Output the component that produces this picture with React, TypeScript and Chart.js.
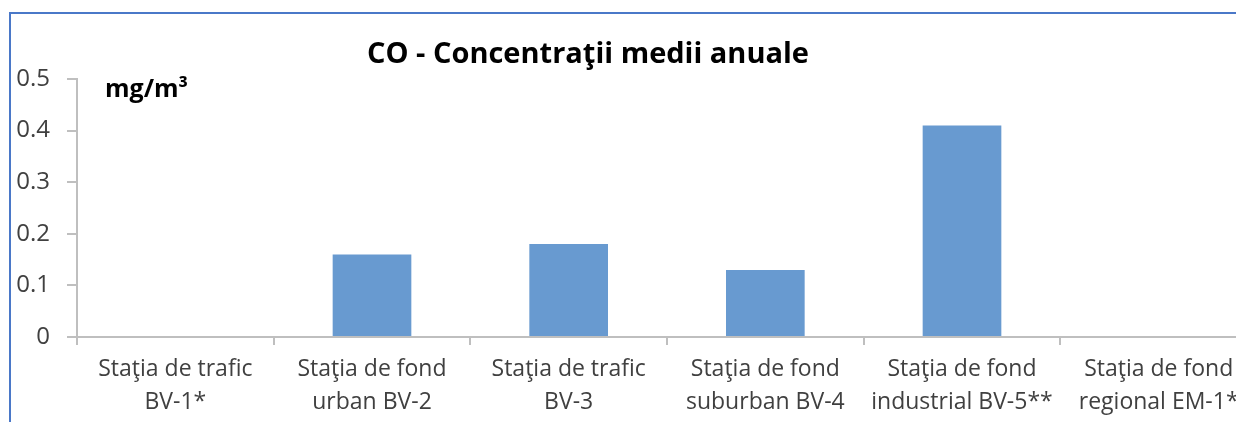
import React, { useEffect, useRef } from "react";
import { Chart, registerables } from "chart.js";

Chart.register(...registerables);

const categories: string[][] = [
  ["Staţia de trafic", "BV-1*"],
  ["Staţia de fond", "urban BV-2"],
  ["Staţia de trafic", "BV-3"],
  ["Staţia de fond", "suburban BV-4"],
  ["Staţia de fond", "industrial BV-5**"],
  ["Staţia de fond", "regional EM-1*"],
];
const values: (number | null)[] = [null, 0.16, 0.18, 0.13, 0.41, null];
const yTickValues: number[] = [0, 0.1, 0.2, 0.3, 0.4, 0.5];
const yTickLabels: string[] = ["0", "0.1", "0.2", "0.3", "0.4", "0.5"];
const titleText = "CO - Concentraţii medii anuale";
const unitText = "mg/m³";

const FONT = "'Open Sans', 'Liberation Sans', sans-serif";
const AXIS_GRAY = "#bfbfbf";
const TEXT_GRAY = "#404040";
const FRAME_BLUE = "#4a78c8";

const textPlugin = {
  id: "customTexts",
  beforeDraw(chart: any) {
    const ctx = chart.ctx;
    ctx.save();
    ctx.strokeStyle = FRAME_BLUE;
    ctx.lineWidth = 2;
    ctx.beginPath();
    ctx.moveTo(2, chart.height);
    ctx.lineTo(2, 5);
    ctx.lineTo(chart.width, 5);
    ctx.stroke();
    ctx.restore();
  },
  afterDraw(chart: any) {
    const ctx = chart.ctx;
    ctx.save();
    ctx.fillStyle = "#000000";
    ctx.font = `bold 29px ${FONT}`;
    ctx.textAlign = "center";
    ctx.textBaseline = "alphabetic";
    ctx.fillText(titleText, 580, 55);
    ctx.font = `bold 25px ${FONT}`;
    ctx.textAlign = "left";
    ctx.fillText(unitText, 97, 89);
    ctx.restore();
  },
};

export default function App() {
  const canvasRef = useRef<HTMLCanvasElement | null>(null);

  useEffect(() => {
    if (!canvasRef.current) return;
    const chart = new Chart(canvasRef.current, {
      type: "bar",
      data: {
        labels: categories,
        datasets: [
          {
            data: values,
            backgroundColor: "#689ad0",
            borderWidth: 0,
            categoryPercentage: 1,
            barPercentage: 0.4,
          },
        ],
      },
      options: {
        animation: false,
        responsive: false,
        maintainAspectRatio: false,
        layout: { padding: { top: 71, right: 13, left: 0, bottom: 0 } },
        plugins: {
          legend: { display: false },
          title: { display: false },
          tooltip: { enabled: false },
        },
        scales: {
          x: {
            offset: true,
            grid: {
              offset: true,
              drawOnChartArea: false,
              drawTicks: true,
              tickLength: 8,
              color: AXIS_GRAY,
              lineWidth: 2,
            },
            border: { color: AXIS_GRAY, width: 2 },
            ticks: {
              color: TEXT_GRAY,
              font: { family: FONT, size: 23, lineHeight: 1.42 },
              padding: 8,
              maxRotation: 0,
              minRotation: 0,
              autoSkip: false,
            },
            afterFit(scale: any) {
              scale.height = 85;
            },
          },
          y: {
            min: 0,
            max: 0.5,
            afterBuildTicks(scale: any) {
              scale.ticks = yTickValues.map((v) => ({ value: v }));
            },
            grid: {
              drawOnChartArea: false,
              drawTicks: true,
              tickLength: 10,
              color: AXIS_GRAY,
              lineWidth: 2,
            },
            border: { color: AXIS_GRAY, width: 2 },
            ticks: {
              color: TEXT_GRAY,
              font: { family: FONT, size: 24 },
              padding: 17,
              callback: (_v: any, i: number) => yTickLabels[i],
            },
            afterFit(scale: any) {
              scale.width = 69;
            },
          },
        },
      },
      plugins: [textPlugin],
    });
    return () => chart.destroy();
  }, []);

  return (
    <div
      style={{
        position: "relative",
        width: 1236,
        height: 414,
        overflow: "hidden",
        background: "#ffffff",
      }}
    >
      <canvas
        ref={canvasRef}
        width={1262}
        height={414}
        style={{ position: "absolute", left: 0, top: 0, width: 1262, height: 414 }}
      />
    </div>
  );
}
